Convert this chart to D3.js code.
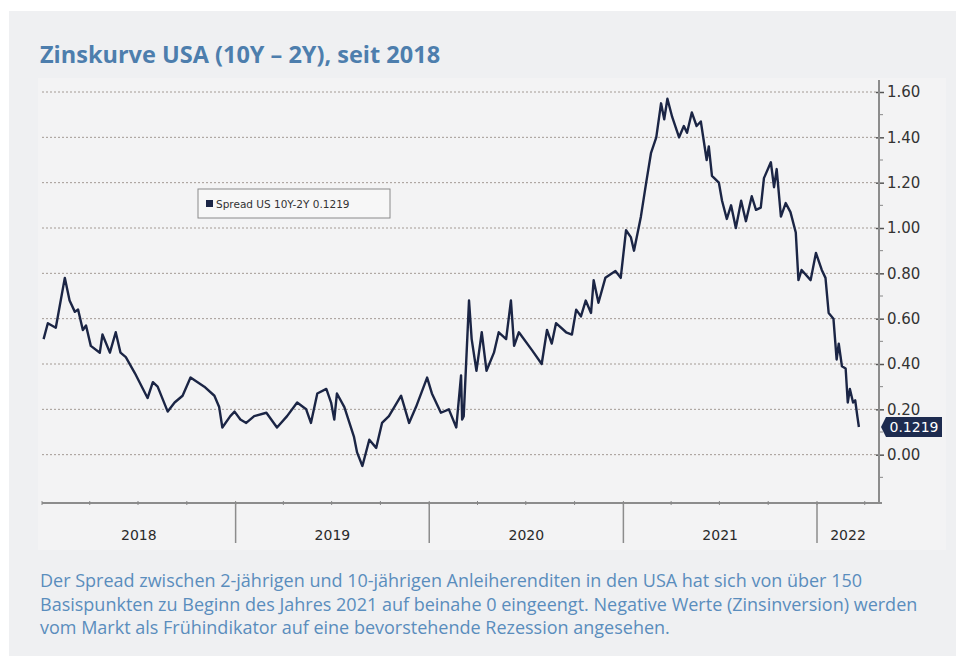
<!DOCTYPE html>
<html>
<head>
<meta charset="utf-8">
<script src="https://cdn.jsdelivr.net/npm/d3@7"></script>
<style>
  body { margin: 0; background: #fff; }
  svg { display: block; }
</style>
</head>
<body>
<div id="chartHolder"></div>
<script>
// spread 10Y-2Y
const dates = [
  "2018-01-04","2018-01-12","2018-01-27","2018-02-13","2018-02-22","2018-03-04","2018-03-10","2018-03-19",
  "2018-03-25","2018-04-03","2018-04-20","2018-04-25","2018-05-09","2018-05-20","2018-05-29","2018-06-08",
  "2018-06-25","2018-07-19","2018-07-29","2018-08-07","2018-08-26","2018-09-08","2018-09-23","2018-10-08",
  "2018-11-03","2018-11-22","2018-12-01","2018-12-07","2018-12-22","2018-12-30","2019-01-10","2019-01-21",
  "2019-02-05","2019-02-28","2019-03-20","2019-04-08","2019-04-27","2019-05-14","2019-05-23","2019-06-04",
  "2019-06-21","2019-06-30","2019-07-06","2019-07-11","2019-07-25","2019-08-12","2019-08-18","2019-08-28",
  "2019-09-10","2019-09-23","2019-10-04","2019-10-17","2019-11-09","2019-11-24","2019-12-07","2019-12-28",
  "2020-01-06","2020-01-23","2020-02-07","2020-02-21","2020-03-01","2020-03-03","2020-03-06","2020-03-16",
  "2020-03-21","2020-03-30","2020-04-09","2020-04-18","2020-05-02","2020-05-11","2020-05-25","2020-06-03",
  "2020-06-09","2020-06-18","2020-07-13","2020-07-31","2020-08-10","2020-08-19","2020-08-27","2020-09-15",
  "2020-09-26","2020-10-04","2020-10-13","2020-10-22","2020-11-01","2020-11-06","2020-11-15","2020-11-28",
  "2020-12-17","2020-12-27","2021-01-06","2021-01-15","2021-01-21","2021-02-03","2021-02-13","2021-02-22",
  "2021-03-04","2021-03-13","2021-03-19","2021-03-25","2021-04-03","2021-04-16","2021-04-25","2021-05-01",
  "2021-05-10","2021-05-19","2021-05-27","2021-06-07","2021-06-11","2021-06-17","2021-06-30","2021-07-06",
  "2021-07-15","2021-07-23","2021-08-01","2021-08-11","2021-08-20","2021-08-31","2021-09-08","2021-09-17",
  "2021-09-23","2021-10-06","2021-10-12","2021-10-17","2021-10-25","2021-11-03","2021-11-12","2021-11-22",
  "2021-11-27","2021-12-03","2021-12-20","2021-12-30","2022-01-10","2022-01-17","2022-01-23","2022-02-01",
  "2022-02-07","2022-02-11","2022-02-17","2022-02-24","2022-02-28","2022-03-04","2022-03-10","2022-03-14",
  "2022-03-18","2022-03-21"
];
const spread = [
  0.51,0.58,0.56,0.78,0.68,0.63,0.64,0.55,
  0.57,0.48,0.45,0.53,0.45,0.54,0.45,0.43,
  0.36,0.25,0.32,0.30,0.19,0.23,0.26,0.34,
  0.30,0.26,0.21,0.12,0.17,0.19,0.155,0.14,
  0.17,0.185,0.12,0.17,0.23,0.20,0.14,0.27,
  0.29,0.23,0.155,0.27,0.21,0.08,0.01,-0.05,
  0.066,0.03,0.14,0.17,0.26,0.14,0.21,0.34,
  0.27,0.185,0.20,0.12,0.35,0.155,0.17,0.68,
  0.51,0.37,0.54,0.37,0.45,0.54,0.51,0.68,
  0.48,0.54,0.46,0.40,0.55,0.49,0.58,0.54,
  0.53,0.64,0.61,0.68,0.625,0.77,0.67,0.78,
  0.81,0.78,0.99,0.96,0.90,1.05,1.20,1.33,
  1.40,1.55,1.48,1.57,1.49,1.40,1.45,1.42,
  1.51,1.45,1.47,1.30,1.36,1.23,1.20,1.12,
  1.04,1.10,1.00,1.12,1.03,1.14,1.08,1.09,
  1.22,1.29,1.18,1.26,1.05,1.11,1.07,0.98,
  0.77,0.815,0.77,0.89,0.815,0.78,0.625,0.60,
  0.42,0.49,0.39,0.38,0.23,0.29,0.23,0.24,
  0.17,0.1219
];
const yTicks = [0, 0.2, 0.4, 0.6, 0.8, 1.0, 1.2, 1.4, 1.6];
const years = [2018, 2019, 2020, 2021, 2022];
const seriesName = "Spread US 10Y-2Y";
const lastValue = 0.1219;

const title = "Zinskurve USA (10Y – 2Y), seit 2018";
const captionLines = [
  "Der Spread zwischen 2-jährigen und 10-jährigen Anleiherenditen in den USA hat sich von über 150",
  "Basispunkten zu Beginn des Jahres 2021 auf beinahe 0 eingeengt. Negative Werte (Zinsinversion) werden",
  "vom Markt als Frühindikator auf eine bevorstehende Rezession angesehen."
];

const W = 956, H = 656;
const plotLeft = 42, plotRight = 879, plotTop = 80, plotBottom = 503;

const svg = d3.select("#chartHolder").append("svg")
  .attr("width", W).attr("height", H);

// panels
svg.append("rect").attr("x", 9).attr("y", 11).attr("width", W - 9).attr("height", H - 11)
  .attr("fill", "#eff0f2");
svg.append("rect").attr("x", 38).attr("y", 78).attr("width", 908).attr("height", 472)
  .attr("fill", "#f3f3f4");

svg.append("text").attr("x", 40).attr("y", 63)
  .attr("font-family", "'Open Sans', sans-serif").attr("font-weight", 700)
  .attr("font-size", 23.5).attr("fill", "#4d7ead")
  .text(title);

const parse = d3.timeParse("%Y-%m-%d");
const data = dates.map((d, i) => ({ date: parse(d), v: spread[i] }));

const x = d3.scaleTime()
  .domain([new Date(2018, 0, 1), new Date(2022, 0, 1)])
  .range([plotLeft, 817]);
const y = d3.scaleLinear().domain([-0.2, 1.6]).range([500, 92]);

// gridlines
svg.append("g").selectAll("line").data(yTicks).enter().append("line")
  .attr("x1", plotLeft).attr("x2", plotRight)
  .attr("y1", d => y(d)).attr("y2", d => y(d))
  .attr("stroke", "#a39a94").attr("stroke-width", 1).attr("stroke-dasharray", "2,2");

// right axis
const yAxis = d3.axisRight(y).tickValues(yTicks).tickSize(5).tickPadding(3)
  .tickFormat(d3.format(".2f"));
const ya = svg.append("g").attr("transform", `translate(${plotRight},0)`).call(yAxis);
ya.select(".domain").remove();
ya.selectAll(".tick line").attr("x1", -3).attr("stroke", "#555").attr("stroke-width", 1.5);
ya.selectAll(".tick text").attr("font-family", "'DejaVu Sans', sans-serif")
  .attr("font-size", 15).attr("fill", "#333");
const minor = d3.range(-0.1, 1.65, 0.2);
svg.append("g").selectAll("line").data(minor).enter().append("line")
  .attr("x1", plotRight).attr("x2", plotRight + 4)
  .attr("y1", d => y(d)).attr("y2", d => y(d))
  .attr("stroke", "#888");
svg.append("line").attr("x1", plotRight).attr("x2", plotRight)
  .attr("y1", plotTop).attr("y2", plotBottom)
  .attr("stroke", "#8c8c8c").attr("stroke-width", 2);

// bottom axis
svg.append("line").attr("x1", plotLeft).attr("x2", plotRight + 3)
  .attr("y1", plotBottom).attr("y2", plotBottom)
  .attr("stroke", "#8c8c8c").attr("stroke-width", 2);
const quarters = d3.timeMonth.every(3).range(new Date(2018, 0, 1), x.invert(plotRight));
svg.append("g").selectAll("line").data(quarters).enter().append("line")
  .attr("x1", d => x(d)).attr("x2", d => x(d))
  .attr("y1", plotBottom - 2).attr("y2", plotBottom + 2)
  .attr("stroke", "#888");
svg.append("g").selectAll("line").data(years.slice(1)).enter().append("line")
  .attr("x1", d => x(new Date(d, 0, 1))).attr("x2", d => x(new Date(d, 0, 1)))
  .attr("y1", plotBottom).attr("y2", 543)
  .attr("stroke", "#8c8c8c").attr("stroke-width", 1.5);
svg.append("g").selectAll("text").data(years).enter().append("text")
  .attr("x", d => {
    const a = x(new Date(d, 0, 1));
    const b = Math.min(x(new Date(d + 1, 0, 1)), plotRight);
    return (a + b) / 2;
  })
  .attr("y", 540).attr("text-anchor", "middle")
  .attr("font-family", "'DejaVu Sans', sans-serif").attr("font-size", 14).attr("fill", "#2a2a2a")
  .text(d => d);

// the line
const line = d3.line().x(d => x(d.date)).y(d => y(d.v));
svg.append("path").datum(data)
  .attr("d", line)
  .attr("fill", "none").attr("stroke", "#1b2545")
  .attr("stroke-width", 2.4).attr("stroke-linejoin", "round");

// last value tag
const ty = y(lastValue);
svg.append("path")
  .attr("d", `M${plotRight + 2},${ty} L${plotRight + 7},${ty - 10} L${plotRight + 63},${ty - 10} L${plotRight + 63},${ty + 10} L${plotRight + 7},${ty + 10} Z`)
  .attr("fill", "#1d2b4f");
svg.append("text").attr("x", plotRight + 35).attr("y", ty + 5).attr("text-anchor", "middle")
  .attr("font-family", "'DejaVu Sans', sans-serif").attr("font-size", 14).attr("fill", "#fff")
  .text(d3.format(".4f")(lastValue));

// legend
const lg = svg.append("g").attr("transform", "translate(198,189)");
lg.append("rect").attr("width", 192).attr("height", 29)
  .attr("fill", "#f7f7f7").attr("stroke", "#8a8a8a");
lg.append("rect").attr("x", 8).attr("y", 11).attr("width", 7).attr("height", 7).attr("fill", "#1b2545");
lg.append("text").attr("x", 18).attr("y", 18.5)
  .attr("font-family", "'DejaVu Sans', sans-serif").attr("font-size", 10.5).attr("fill", "#333")
  .text(seriesName + " " + lastValue);

// caption
svg.append("g").selectAll("text").data(captionLines).enter().append("text")
  .attr("x", 40).attr("y", (d, i) => 587 + i * 23.5)
  .attr("font-family", "'Open Sans', sans-serif").attr("font-size", 18).attr("fill", "#5a8dbd")
  .text(d => d);
</script>
</body>
</html>
